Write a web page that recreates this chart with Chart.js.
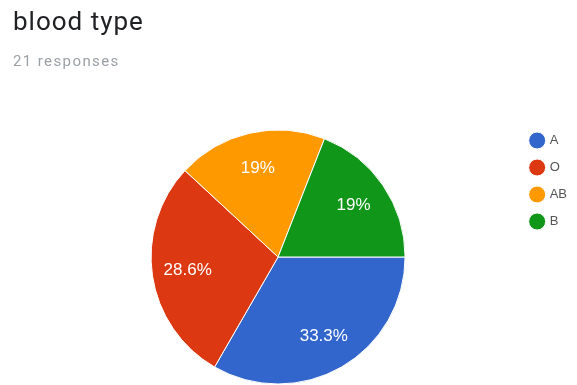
<!DOCTYPE html>
<html>
<head>
<meta charset="utf-8">
<script src="https://cdn.jsdelivr.net/npm/chart.js@4.4.0/dist/chart.umd.min.js"></script>
<style>
  html, body { margin: 0; padding: 0; background: #fff; overflow: hidden; }
  body { width: 577px; height: 385px; position: relative; font-family: Roboto, Arial, sans-serif; }
  #titulo { position: absolute; left: 13px; top: 6px; font-size: 26px; line-height: 30px; letter-spacing: 1px; color: #202124; }
  #respostas { position: absolute; left: 13px; top: 52px; font-size: 15px; line-height: 18px; color: #9aa0a6; letter-spacing: 1.4px; }
  #containerGrafico { position: absolute; left: 0; top: 0; width: 577px; height: 394px; }
</style>
</head>
<body>
<div id="containerGrafico"><canvas id="grafico"></canvas></div>
<div id="titulo">blood type</div>
<div id="respostas">21 responses</div>
<script>
const tipos = ['A', 'O', 'AB', 'B']
const respostas = [7, 6, 4, 4]
const cores = ['#3366cc', '#dc3912', '#ff9900', '#109618']

// ── Helpers ─────────────────────────────────────────────────────────────────

function formatarPct(valor) {
  return `${valor.toFixed(1).replace(/\.0$/, '')}%`
}

// percentuais brancos dentro de cada fatia
const rotulosPercentuais = {
  id: 'rotulosPercentuais',
  afterDatasetsDraw(chart) {
    const { ctx } = chart
    const meta = chart.getDatasetMeta(0)
    const total = respostas.reduce((a, b) => a + b, 0)
    ctx.save()
    ctx.fillStyle = '#fff'
    ctx.font = '17px Arial, sans-serif'
    ctx.textAlign = 'center'
    ctx.textBaseline = 'middle'
    meta.data.forEach((arc, i) => {
      const { x, y, startAngle, endAngle, outerRadius } = arc.getProps(
        ['x', 'y', 'startAngle', 'endAngle', 'outerRadius'],
        true,
      )
      const meio = (startAngle + endAngle) / 2
      const r = outerRadius * 0.72
      ctx.fillText(
        formatarPct((respostas[i] / total) * 100),
        x + Math.cos(meio) * r,
        y + Math.sin(meio) * r,
      )
    })
    ctx.restore()
  },
}

// ── Gráfico ─────────────────────────────────────────────────────────────────

new Chart(document.getElementById('grafico'), {
  type: 'pie',
  data: {
    labels: tipos,
    datasets: [
      {
        data: respostas,
        backgroundColor: cores,
        borderColor: '#fff',
        borderWidth: 1,
      },
    ],
  },
  options: {
    responsive: true,
    maintainAspectRatio: false,
    animation: false,
    events: [],
    rotation: 90,
    radius: 127,
    layout: { padding: { left: 39, top: 120, right: 0, bottom: 0 } },
    plugins: {
      legend: {
        position: 'right',
        align: 'start',
        labels: {
          usePointStyle: true,
          pointStyle: 'circle',
          boxWidth: 12,
          boxHeight: 12,
          padding: 14,
          color: '#555',
          font: { family: 'Arial, sans-serif', size: 13 },
        },
      },
      tooltip: { enabled: false },
    },
  },
  plugins: [rotulosPercentuais],
})
</script>
</body>
</html>
